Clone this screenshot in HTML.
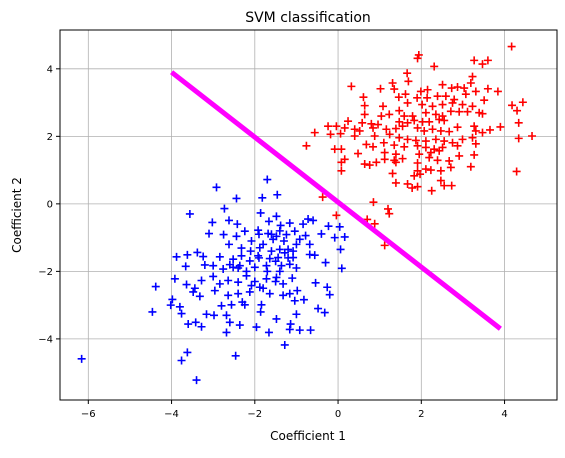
<!DOCTYPE html>
<html><head><meta charset="utf-8"><style>
body{margin:0;background:#fff;font-family:"Liberation Sans","DejaVu Sans",sans-serif}
svg text{font-family:"DejaVu Sans","Liberation Sans",sans-serif}
</style></head><body>
<svg id="chart" width="565" height="453" xmlns="http://www.w3.org/2000/svg">
<rect width="565" height="453" fill="#fff"/>
<g id="grid"></g>
<g id="marks"></g>
<rect x="60" y="30" width="497" height="370" fill="none" stroke="#000" stroke-width="1"/>
<g id="ticks"></g>
<text x="308" y="22" text-anchor="middle" font-size="14">SVM classification</text>
<text x="308" y="440" text-anchor="middle" font-size="12">Coefficient 1</text>
<text x="21" y="215" text-anchor="middle" font-size="12" transform="rotate(-90 21 215)">Coefficient 2</text>
</svg>
<script>
const xTicks=[-6,-4,-2,0,2,4];
const yTicks=[-4,-2,0,2,4];
const blueX=[-1.70,-2.92,-2.44,-1.82,-1.46,-2.73,-3.56,-1.86,-1.48,-3.02,-2.62,-2.42,-1.66,-1.38,-1.16,-0.72,-0.60,-0.84,-0.23,0.04,-3.10,-2.75,-2.44,-2.24,-1.92,-1.68,-1.48,-1.24,-1.04,-0.78,-0.40,-0.08,0.16,-2.62,-2.32,-2.08,-1.88,-1.56,-1.40,-1.20,-1.08,-0.92,-0.68,0.06,-3.88,-3.62,-3.38,-3.24,-2.84,-2.52,-2.32,-2.12,-1.92,-1.64,-1.44,-1.28,-1.08,-0.68,-0.56,-0.30,-3.66,-3.20,-3.00,-2.76,-2.52,-2.36,-2.00,-1.72,-1.36,-1.16,-1.00,0.09,-3.92,-4.38,-3.64,-3.44,-3.28,-3.00,-2.84,-2.64,-2.40,-2.20,-2.08,-1.88,-1.72,-1.48,-1.32,-0.54,-0.26,-3.48,-3.32,-2.96,-2.64,-2.40,-2.12,-1.64,-1.32,-1.16,-0.98,-0.20,-3.98,-4.02,-3.80,-2.80,-2.56,-2.30,-2.24,-1.84,-1.04,-0.82,-4.46,-3.76,-3.16,-2.98,-2.68,-1.86,-1.48,-1.00,-0.48,-0.32,-3.60,-3.42,-3.28,-2.60,-2.36,-1.96,-1.14,-1.16,-0.92,-0.66,-2.68,-1.66,-1.28,-6.16,-3.62,-3.76,-2.46,-3.40,-1.8,-1.6,-1.3,-1.5,-1.9,-2.1,-1.7,-1.4,-2.2,-1.2,-1.0,-1.6,-2.0,-1.8,-2.4,-1.1,-1.4,-2.6,-1.9,-1.5];
const blueY=[0.72,0.49,0.16,0.18,0.27,-0.14,-0.30,-0.27,-0.37,-0.55,-0.49,-0.60,-0.52,-0.64,-0.57,-0.45,-0.49,-0.60,-0.66,-0.68,-0.88,-0.91,-0.96,-0.81,-0.78,-0.88,-0.96,-0.91,-0.81,-0.94,-0.89,-1.00,-0.98,-1.20,-1.31,-1.10,-1.30,-1.05,-1.35,-1.35,-1.40,-1.05,-1.20,-1.35,-1.57,-1.51,-1.44,-1.56,-1.57,-1.64,-1.54,-1.69,-1.54,-1.62,-1.59,-1.45,-1.59,-1.50,-1.52,-1.74,-1.85,-1.81,-1.83,-1.93,-1.88,-1.83,-1.88,-1.83,-1.83,-1.79,-1.90,-1.91,-2.22,-2.45,-2.39,-2.50,-2.27,-2.15,-2.37,-2.27,-2.32,-2.13,-2.42,-2.47,-2.22,-2.18,-2.37,-2.34,-2.47,-2.61,-2.74,-2.57,-2.71,-2.66,-2.61,-2.66,-2.71,-2.66,-2.57,-2.69,-2.83,-3.00,-3.05,-3.02,-2.99,-2.91,-2.99,-2.99,-2.87,-2.84,-3.20,-3.25,-3.27,-3.30,-3.30,-3.20,-3.41,-3.27,-3.10,-3.22,-3.56,-3.51,-3.64,-3.51,-3.59,-3.65,-3.56,-3.72,-3.74,-3.74,-3.81,-3.81,-4.18,-4.59,-4.40,-4.64,-4.50,-5.22,-1.2,-1.4,-1.1,-1.7,-1.6,-1.4,-2.0,-2.0,-2.0,-1.6,-1.2,-0.9,-2.3,-2.5,-1.9,-2.2,-0.8,-1.8,-0.9,-2.3];
const redX=[4.17,1.94,1.91,3.27,3.47,3.60,2.31,1.66,1.69,3.23,3.19,0.32,1.02,1.31,1.35,1.99,2.15,2.51,2.73,2.87,3.03,3.31,3.60,3.84,0.61,1.46,1.62,1.90,2.14,2.39,2.59,2.79,3.07,3.51,4.18,4.44,0.64,1.08,1.47,1.67,2.02,2.27,2.51,2.75,2.99,3.23,4.30,0.64,1.04,1.23,1.59,1.79,2.11,2.35,2.51,2.71,2.91,3.11,3.39,3.47,0.24,0.58,0.80,0.96,1.47,1.67,1.83,2.03,2.19,2.43,2.55,4.34,-0.24,-0.04,0.16,0.40,0.52,0.84,1.16,1.39,1.55,1.91,2.07,2.27,2.47,2.67,2.87,3.27,3.31,3.47,3.65,3.90,-0.56,-0.18,0.06,0.40,0.88,1.24,1.47,1.67,1.87,2.11,2.35,2.55,2.75,2.99,3.23,4.34,4.66,-0.76,0.68,0.84,1.10,1.35,1.59,1.91,2.11,2.31,2.51,2.87,3.31,-0.08,0.08,0.48,1.12,1.39,1.95,2.23,2.43,2.91,3.27,0.16,1.12,1.35,1.55,2.19,2.39,0.08,0.64,0.76,0.92,1.39,1.91,2.67,0.08,1.91,2.11,2.23,2.47,2.71,3.19,4.29,1.31,1.83,1.97,1.39,1.67,1.78,1.91,2.47,2.55,2.73,2.25,-0.37,0.85,1.20,1.23,-0.04,0.70,0.88,1.12];
const redY=[4.66,4.41,4.31,4.25,4.14,4.25,4.07,3.87,3.63,3.77,3.58,3.48,3.41,3.58,3.40,3.33,3.38,3.53,3.43,3.46,3.43,3.33,3.41,3.33,3.16,3.16,3.25,3.14,3.14,3.19,3.19,3.09,3.25,3.07,2.92,3.01,2.91,2.89,2.76,2.99,2.94,2.89,2.94,2.99,2.94,2.89,2.76,2.65,2.60,2.65,2.60,2.60,2.70,2.65,2.60,2.74,2.73,2.73,2.70,2.67,2.45,2.40,2.37,2.35,2.43,2.40,2.47,2.43,2.43,2.50,2.47,2.40,2.30,2.30,2.25,2.21,2.16,2.25,2.21,2.23,2.30,2.25,2.16,2.21,2.16,2.14,2.27,2.30,2.16,2.11,2.19,2.28,2.11,2.06,2.08,2.01,2.01,2.06,1.96,1.91,1.88,1.86,1.91,1.86,1.81,1.91,1.96,1.94,2.01,1.72,1.76,1.69,1.81,1.74,1.69,1.72,1.67,1.62,1.67,1.72,1.78,1.62,1.62,1.49,1.52,1.47,1.47,1.52,1.57,1.42,1.45,1.32,1.32,1.29,1.34,1.37,1.29,1.23,1.18,1.15,1.23,1.23,1.21,1.27,0.98,0.98,1.03,1.00,0.98,1.08,1.10,0.96,0.90,0.83,0.88,0.62,0.59,0.47,0.51,0.69,0.54,0.54,0.39,0.20,0.05,-0.15,-0.29,-0.34,-0.46,-0.59,-1.23];
const boundaryX=[-4.0,3.9];
const boundaryY=[3.9,-3.7];

const L=60,R=557,T=30,B=400,xmin=-6.68,xmax=5.26,ymin=-5.81,ymax=5.15;
const sx=v=>L+(v-xmin)/(xmax-xmin)*(R-L);
const sy=v=>B-(v-ymin)/(ymax-ymin)*(B-T);
const NS='http://www.w3.org/2000/svg';
function mk(tag,parent){const e=document.createElementNS(NS,tag);parent.appendChild(e);return e;}
const grid=document.getElementById('grid'),ticks=document.getElementById('ticks'),marks=document.getElementById('marks');
xTicks.forEach(t=>{
  const g=mk('line',grid);
  
  
  g.setAttribute('x1',sx(t));g.setAttribute('x2',sx(t));g.setAttribute('y1',T);g.setAttribute('y2',B);g.setAttribute('stroke','#b0b0b0');g.setAttribute('stroke-width','0.8');
  const k=mk('line',ticks);
  
  
  k.setAttribute('x1',sx(t));k.setAttribute('x2',sx(t));k.setAttribute('y1',B);k.setAttribute('y2',B+4);k.setAttribute('stroke','#000');
  const s=mk('text',ticks);
  
  
  s.setAttribute('x',sx(t));s.setAttribute('y',B+17);s.setAttribute('text-anchor','middle');s.setAttribute('font-size','10');
  s.textContent=t<0?'\u2212'+(-t):String(t);
});
yTicks.forEach(t=>{
  const g=mk('line',grid);
  
  
  g.setAttribute('x1',L);g.setAttribute('x2',R);g.setAttribute('y1',sy(t));g.setAttribute('y2',sy(t));g.setAttribute('stroke','#b0b0b0');g.setAttribute('stroke-width','0.8');
  const k=mk('line',ticks);
  
  
  k.setAttribute('x1',L-4);k.setAttribute('x2',L);k.setAttribute('y1',sy(t));k.setAttribute('y2',sy(t));k.setAttribute('stroke','#000');
  const s=mk('text',ticks);
  
  
  s.setAttribute('x',L-7);s.setAttribute('y',sy(t)+3.5);s.setAttribute('text-anchor','end');s.setAttribute('font-size','10');
  s.textContent=t<0?'\u2212'+(-t):String(t);
});
function plus(x,y,color,name){
  const p=mk('path',marks);
  
  
  const X=sx(x),Y=sy(y);
  p.setAttribute('d',`M${X-4},${Y}H${X+4}M${X},${Y-4}V${Y+4}`);
  p.setAttribute('stroke',color);p.setAttribute('stroke-width','1.6');
}
blueX.forEach((x,i)=>plus(x,blueY[i],'#0000ff','class-a-point'));
redX.forEach((x,i)=>plus(x,redY[i],'#ff0000','class-b-point'));
const ln=mk('line',marks);


ln.setAttribute('x1',sx(boundaryX[0]));ln.setAttribute('y1',sy(boundaryY[0]));
ln.setAttribute('x2',sx(boundaryX[1]));ln.setAttribute('y2',sy(boundaryY[1]));
ln.setAttribute('stroke','#ff00ff');ln.setAttribute('stroke-width','5');
</script>
</body></html>
